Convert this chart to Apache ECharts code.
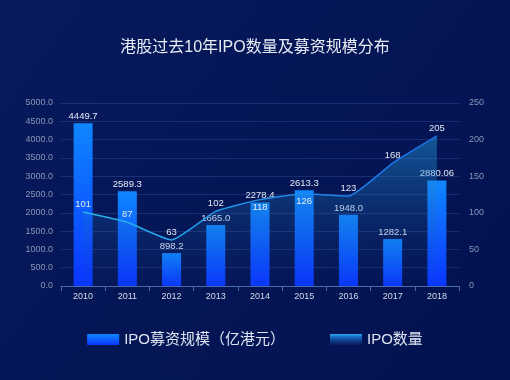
<!DOCTYPE html>
<html><head><meta charset="utf-8">
<script src="https://cdn.jsdelivr.net/npm/echarts@6/dist/echarts.min.js"></script>
<style>html,body{margin:0;padding:0;background:#04144f;}#c{width:510px;height:380px;}</style>
</head><body><div id="c"></div>
<script>
const titleText = '港股过去10年IPO数量及募资规模分布';
const years = ['2010','2011','2012','2013','2014','2015','2016','2017','2018'];
const raiseAmount = [4449.7, 2589.3, 898.2, 1665.0, 2278.4, 2613.3, 1948.0, 1282.1, 2880.06];
const raiseLabels = ['4449.7','2589.3','898.2','1665.0','2278.4','2613.3','1948.0','1282.1','2880.06'];
const ipoCount = [101, 87, 63, 102, 118, 126, 123, 168, 205];
const countLabelPos = ['top','top','top','top','bottom','bottom','top','top','top'];
const barName = 'IPO募资规模（亿港元）';
const lineName = 'IPO数量';

const chart = echarts.init(document.getElementById('c'));
const font = '"Liberation Sans", "Noto Sans CJK SC", sans-serif';
chart.setOption({
  backgroundColor: new echarts.graphic.LinearGradient(0,0,1,1,[
    {offset:0,color:'#071a5c'},{offset:1,color:'#021150'}]),
  textStyle:{fontFamily:font},
  title:{text:titleText,left:'center',top:35,
    textStyle:{color:'#e8ecf5',fontSize:16,fontWeight:'normal',fontFamily:font}},
  legend:{bottom:28,left:'center',itemGap:45,itemWidth:32,itemHeight:11,
    textStyle:{color:'#dfe5f2',fontSize:15,fontFamily:font},
    data:[{name:barName,icon:'rect'},{name:lineName,icon:'rect',
      itemStyle:{opacity:1,color:new echarts.graphic.LinearGradient(0,0,0,1,[
        {offset:0,color:'#2aa8f0'},{offset:0.25,color:'#1a70c8'},{offset:1,color:'rgba(20,60,140,0.25)'}])}}]},
  grid:{left:61,right:51,top:103,bottom:94},
  xAxis:{type:'category',data:years,
    axisLine:{lineStyle:{color:'#4a6aa8'}},
    axisTick:{show:true,lineStyle:{color:'#4a6aa8'}},
    axisLabel:{color:'#d5dbe8',fontSize:9,margin:6}},
  yAxis:[{type:'value',min:0,max:5000,interval:500,
    axisLabel:{color:'#8a97b8',fontSize:9,formatter:v=>v.toFixed(1)},
    axisLine:{show:false},axisTick:{show:false},
    splitLine:{lineStyle:{color:'rgba(90,120,200,0.25)'}}},
    {type:'value',min:0,max:250,interval:50,
    axisLabel:{color:'#8a97b8',fontSize:9,margin:10},
    axisLine:{show:false},axisTick:{show:false},splitLine:{show:false}}],
  series:[{name:barName,type:'bar',data:raiseAmount,barWidth:19,
    itemStyle:{color:new echarts.graphic.LinearGradient(0,0,0,1,[
      {offset:0,color:'#0f86ff'},{offset:1,color:'#0a36ff'}])},
    label:{show:true,position:'top',color:'#e4e9f4',fontSize:9.5,distance:2,
      formatter:p=>raiseLabels[p.dataIndex]}},
   {name:lineName,type:'line',yAxisIndex:1,smooth:0.15,symbol:'circle',symbolSize:0,
    showSymbol:true,itemStyle:{color:'#27b2ec'},
    data:ipoCount.map((v,i)=>({value:v,label:{position:countLabelPos[i]}})),
    lineStyle:{width:1.5,color:new echarts.graphic.LinearGradient(0,0,1,0,[
      {offset:0,color:'#27b2ec'},{offset:1,color:'#1a6ee6'}])},
    areaStyle:{color:new echarts.graphic.LinearGradient(0,0,0,1,[
      {offset:0,color:'rgba(40,170,235,0.65)'},{offset:1,color:'rgba(20,60,140,0.05)'}])},
    label:{show:true,color:'#e4e9f4',fontSize:9.5,distance:3},
    labelLayout:{hideOverlap:false},
    z:3}]
});
</script></body></html>
